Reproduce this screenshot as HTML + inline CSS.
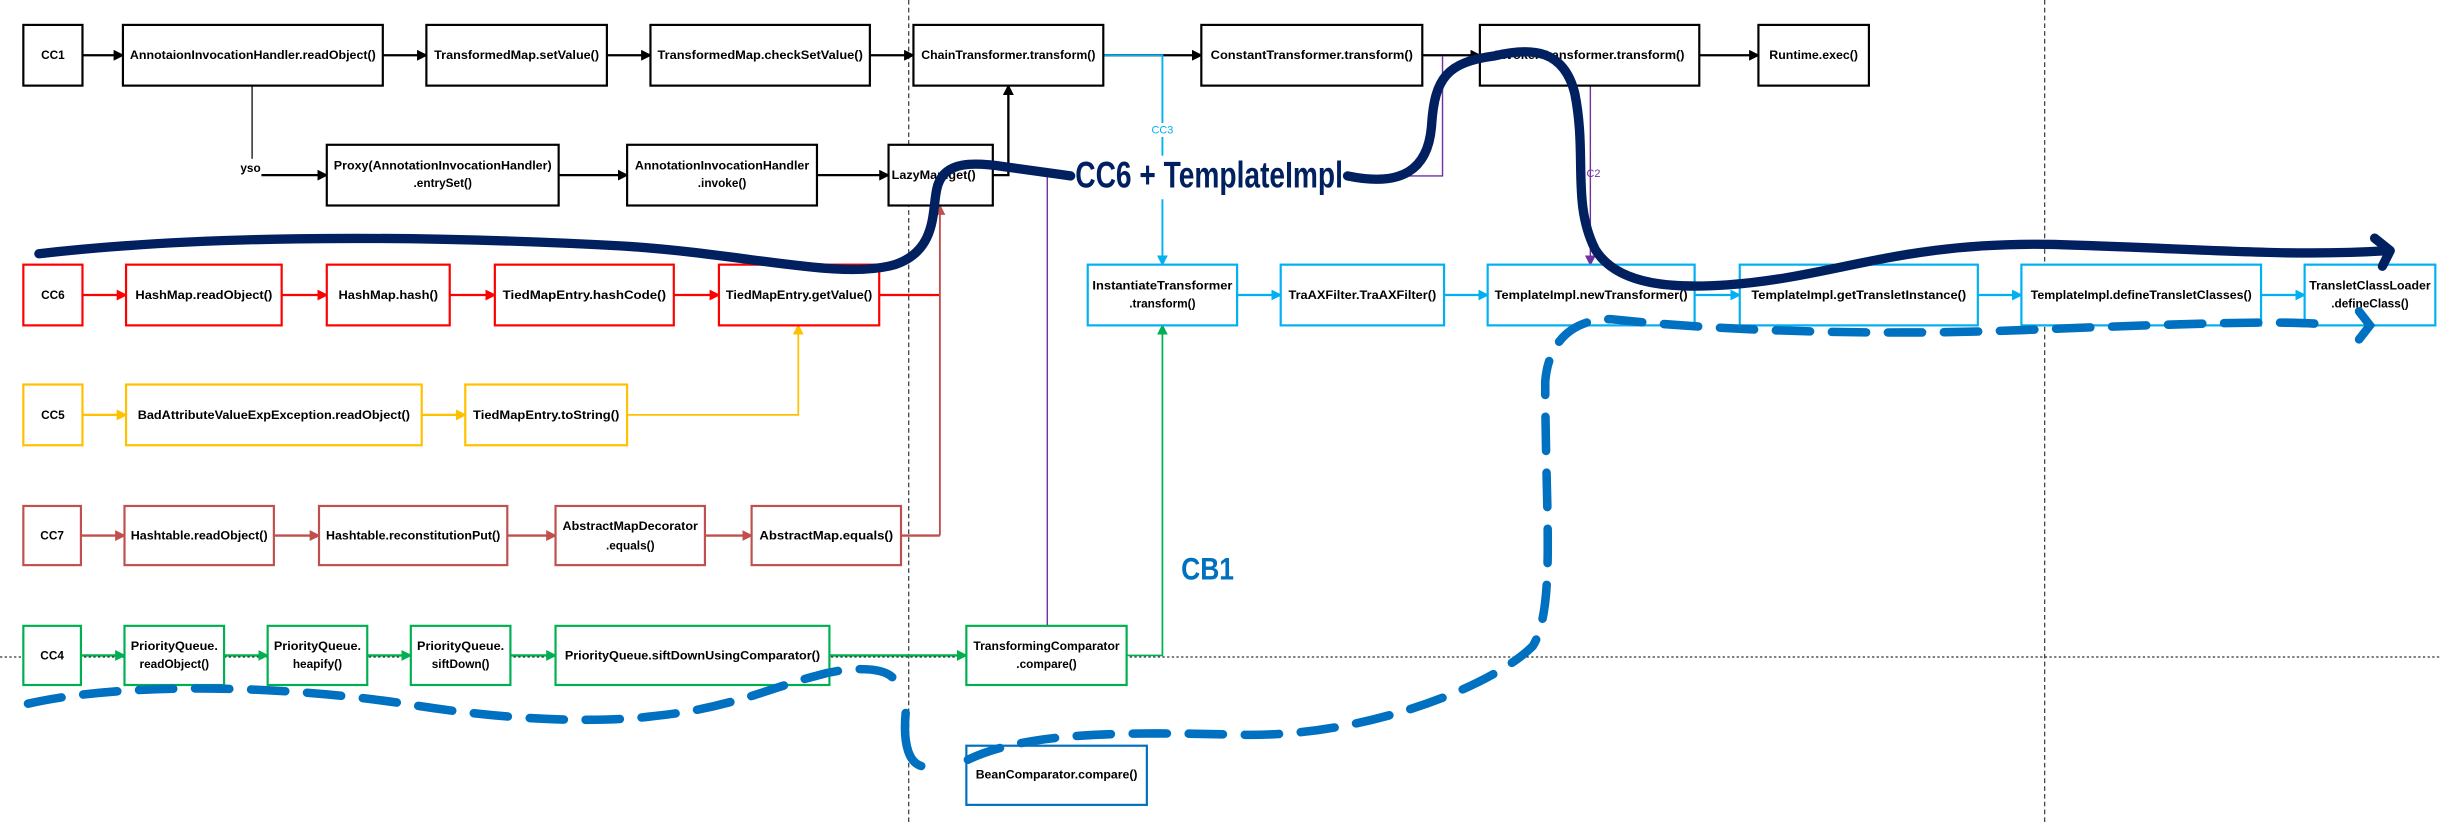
<!DOCTYPE html>
<html><head><meta charset="utf-8"><style>
html,body{margin:0;padding:0;background:#fff;}
svg{display:block;}
text{font-family:"Liberation Sans",sans-serif;font-size:7.6px;font-weight:bold;fill:#000;text-anchor:middle;dominant-baseline:middle;}
</style></head><body>
<svg width="2440" height="822" viewBox="0 0 1568 528" preserveAspectRatio="none" xmlns="http://www.w3.org/2000/svg">
<defs>
<marker id="mk" markerWidth="7" markerHeight="7" refX="6" refY="3.5" orient="auto" markerUnits="userSpaceOnUse"><path d="M0,0L7,3.5L0,7z" fill="#000"/></marker>
<marker id="mr" markerWidth="7" markerHeight="7" refX="6" refY="3.5" orient="auto" markerUnits="userSpaceOnUse"><path d="M0,0L7,3.5L0,7z" fill="#ff0000"/></marker>
<marker id="mr2" markerWidth="7" markerHeight="7" refX="6" refY="3.5" orient="auto" markerUnits="userSpaceOnUse"><path d="M0,0L7,3.5L0,7z" fill="#c0504d"/></marker>
<marker id="my" markerWidth="7" markerHeight="7" refX="6" refY="3.5" orient="auto" markerUnits="userSpaceOnUse"><path d="M0,0L7,3.5L0,7z" fill="#ffc000"/></marker>
<marker id="mg" markerWidth="7" markerHeight="7" refX="6" refY="3.5" orient="auto" markerUnits="userSpaceOnUse"><path d="M0,0L7,3.5L0,7z" fill="#00b050"/></marker>
<marker id="mc" markerWidth="7" markerHeight="7" refX="6" refY="3.5" orient="auto" markerUnits="userSpaceOnUse"><path d="M0,0L7,3.5L0,7z" fill="#00b0f0"/></marker>
<marker id="mp" markerWidth="7" markerHeight="7" refX="6" refY="3.5" orient="auto" markerUnits="userSpaceOnUse"><path d="M0,0L7,3.5L0,7z" fill="#7030a0"/></marker>
</defs>
<g stroke="#000" stroke-width="0.6" stroke-dasharray="3,2" fill="none">
<line x1="584" y1="0" x2="584" y2="528"/>
<line x1="1314" y1="0" x2="1314" y2="528"/>
<line x1="0" y1="422" x2="1568" y2="422" stroke-dasharray="1.5,1.5"/>
</g>
<g fill="none" stroke-width="1.2">
<g stroke="#000" marker-end="url(#mk)" stroke-width="1.5">
<line x1="53" y1="35.5" x2="79" y2="35.5"/><line x1="246" y1="35.5" x2="274" y2="35.5"/>
<line x1="390" y1="35.5" x2="418" y2="35.5"/><line x1="559" y1="35.5" x2="587" y2="35.5"/>
<line x1="709" y1="35.5" x2="772" y2="35.5"/><line x1="914" y1="35.5" x2="951" y2="35.5"/>
<line x1="1092" y1="35.5" x2="1130" y2="35.5"/>
<line x1="168" y1="112.5" x2="210" y2="112.5"/><line x1="359" y1="112.5" x2="403" y2="112.5"/>
<line x1="525" y1="112.5" x2="571" y2="112.5"/>
<polyline points="638,112.5 648,112.5 648,55"/>
</g>
<line x1="162" y1="55" x2="162" y2="102" stroke="#000" stroke-width="0.8"/>
<polyline points="709,35.5 747,35.5 747,170" stroke="#00b0f0" marker-end="url(#mc)"/>
<polyline points="673,402 673,113 927,113 927,36" stroke="#7030a0" stroke-width="0.9"/>
<line x1="1022" y1="55" x2="1022" y2="170" stroke="#7030a0" stroke-width="0.9" marker-end="url(#mp)"/>
<g stroke="#ff0000" marker-end="url(#mr)" stroke-width="1.5">
<line x1="53" y1="189.5" x2="81" y2="189.5"/><line x1="181" y1="189.5" x2="210" y2="189.5"/>
<line x1="289" y1="189.5" x2="318" y2="189.5"/><line x1="433" y1="189.5" x2="462" y2="189.5"/>
</g>
<polyline points="565,189.5 604,189.5" stroke="#ff0000" stroke-width="1.5"/>
<line x1="604" y1="344" x2="604" y2="132" stroke="#c0504d" marker-end="url(#mr2)"/>
<g stroke="#ffc000" marker-end="url(#my)" stroke-width="1.5">
<line x1="53" y1="266.5" x2="81" y2="266.5"/><line x1="271" y1="266.5" x2="299" y2="266.5"/>
<polyline points="403,266.5 513,266.5 513,209" stroke-width="1.1"/>
</g>
<g stroke="#c0504d" marker-end="url(#mr2)" stroke-width="1.5">
<line x1="52" y1="344" x2="80" y2="344"/><line x1="176" y1="344" x2="205" y2="344"/>
<line x1="326" y1="344" x2="357" y2="344"/><line x1="453" y1="344" x2="483" y2="344"/>
</g>
<polyline points="579,344 604,344" stroke="#c0504d" stroke-width="1.5"/>
<g stroke="#00b050" marker-end="url(#mg)" stroke-width="1.5">
<line x1="52" y1="421" x2="80" y2="421"/><line x1="144" y1="421" x2="172" y2="421"/>
<line x1="236" y1="421" x2="264" y2="421"/><line x1="328" y1="421" x2="357" y2="421"/>
<line x1="533" y1="421" x2="621" y2="421"/>
<polyline points="724,421 747,421 747,209" stroke-width="1.1"/>
</g>
<g stroke="#00b0f0" marker-end="url(#mc)" stroke-width="1.5">
<line x1="795" y1="189.5" x2="823" y2="189.5"/><line x1="928" y1="189.5" x2="956" y2="189.5"/>
<line x1="1089" y1="189.5" x2="1118" y2="189.5"/><line x1="1271" y1="189.5" x2="1299" y2="189.5"/>
<line x1="1453" y1="189.5" x2="1481" y2="189.5"/>
</g>
</g>
<g fill="#fff" stroke-width="1.4">
<g stroke="#000">
<rect x="15" y="16" width="38" height="39"/><rect x="79" y="16" width="167" height="39"/>
<rect x="274" y="16" width="116" height="39"/><rect x="418" y="16" width="141" height="39"/>
<rect x="587" y="16" width="122" height="39"/><rect x="772" y="16" width="142" height="39"/>
<rect x="951" y="16" width="141" height="39"/><rect x="1130" y="16" width="71" height="39"/>
<rect x="210" y="93" width="149" height="39"/><rect x="403" y="93" width="122" height="39"/>
<rect x="571" y="93" width="67" height="39"/>
</g>
<g stroke="#ff0000">
<rect x="15" y="170" width="38" height="39"/><rect x="81" y="170" width="100" height="39"/>
<rect x="210" y="170" width="79" height="39"/><rect x="318" y="170" width="115" height="39"/>
<rect x="462" y="170" width="103" height="39"/>
</g>
<g stroke="#ffc000">
<rect x="15" y="247" width="38" height="39"/><rect x="81" y="247" width="190" height="39"/>
<rect x="299" y="247" width="104" height="39"/>
</g>
<g stroke="#c0504d">
<rect x="15" y="325" width="37" height="38"/><rect x="80" y="325" width="96" height="38"/>
<rect x="205" y="325" width="121" height="38"/><rect x="357" y="325" width="96" height="38"/>
<rect x="483" y="325" width="96" height="38"/>
</g>
<g stroke="#00b050">
<rect x="15" y="402" width="37" height="38"/><rect x="80" y="402" width="64" height="38"/>
<rect x="172" y="402" width="64" height="38"/><rect x="264" y="402" width="64" height="38"/>
<rect x="357" y="402" width="176" height="38"/><rect x="621" y="402" width="103" height="38"/>
</g>
<g stroke="#00b0f0">
<rect x="699" y="170" width="96" height="39"/><rect x="823" y="170" width="105" height="39"/>
<rect x="956" y="170" width="133" height="39"/><rect x="1118" y="170" width="153" height="39"/>
<rect x="1299" y="170" width="154" height="39"/><rect x="1481" y="170" width="84" height="39"/>
</g>
<rect x="621" y="479" width="116" height="38" stroke="#0070c0"/>
</g>
<g>
<text x="34" y="36">CC1</text>
<text x="162.5" y="36" textLength="158" lengthAdjust="spacingAndGlyphs">AnnotaionInvocationHandler.readObject()</text>
<text x="332" y="36" textLength="106" lengthAdjust="spacingAndGlyphs">TransformedMap.setValue()</text>
<text x="488.5" y="36" textLength="132" lengthAdjust="spacingAndGlyphs">TransformedMap.checkSetValue()</text>
<text x="648" y="36" textLength="112" lengthAdjust="spacingAndGlyphs">ChainTransformer.transform()</text>
<text x="843" y="36" textLength="130" lengthAdjust="spacingAndGlyphs">ConstantTransformer.transform()</text>
<text x="1021.5" y="36" textLength="122" lengthAdjust="spacingAndGlyphs">InvokerTransformer.transform()</text>
<text x="1165.5" y="36" textLength="57" lengthAdjust="spacingAndGlyphs">Runtime.exec()</text>
<text x="284.5" y="107" textLength="140" lengthAdjust="spacingAndGlyphs">Proxy(AnnotationInvocationHandler)</text>
<text x="284.5" y="118">.entrySet()</text>
<text x="464" y="107" textLength="112" lengthAdjust="spacingAndGlyphs">AnnotationInvocationHandler</text>
<text x="464" y="118">.invoke()</text>
<text x="600" y="113" textLength="54" lengthAdjust="spacingAndGlyphs">LazyMap.get()</text>
<text x="161" y="108.5">yso</text>
<text x="34" y="190">CC6</text>
<text x="131" y="190" textLength="88" lengthAdjust="spacingAndGlyphs">HashMap.readObject()</text>
<text x="249.5" y="190" textLength="64" lengthAdjust="spacingAndGlyphs">HashMap.hash()</text>
<text x="375.5" y="190" textLength="105" lengthAdjust="spacingAndGlyphs">TiedMapEntry.hashCode()</text>
<text x="513.5" y="190" textLength="94" lengthAdjust="spacingAndGlyphs">TiedMapEntry.getValue()</text>
<text x="34" y="267">CC5</text>
<text x="176" y="267" textLength="175" lengthAdjust="spacingAndGlyphs">BadAttributeValueExpException.readObject()</text>
<text x="351" y="267" textLength="94" lengthAdjust="spacingAndGlyphs">TiedMapEntry.toString()</text>
<text x="33.5" y="344.5">CC7</text>
<text x="128" y="344.5" textLength="88" lengthAdjust="spacingAndGlyphs">Hashtable.readObject()</text>
<text x="265.5" y="344.5" textLength="112" lengthAdjust="spacingAndGlyphs">Hashtable.reconstitutionPut()</text>
<text x="405" y="338.5" textLength="87" lengthAdjust="spacingAndGlyphs">AbstractMapDecorator</text>
<text x="405" y="351">.equals()</text>
<text x="531" y="344.5" textLength="86" lengthAdjust="spacingAndGlyphs">AbstractMap.equals()</text>
<text x="33.5" y="421.5">CC4</text>
<text x="112" y="415.5" textLength="56" lengthAdjust="spacingAndGlyphs">PriorityQueue.</text>
<text x="112" y="427">readObject()</text>
<text x="204" y="415.5" textLength="56" lengthAdjust="spacingAndGlyphs">PriorityQueue.</text>
<text x="204" y="427">heapify()</text>
<text x="296" y="415.5" textLength="56" lengthAdjust="spacingAndGlyphs">PriorityQueue.</text>
<text x="296" y="427">siftDown()</text>
<text x="445" y="421.5" textLength="164" lengthAdjust="spacingAndGlyphs">PriorityQueue.siftDownUsingComparator()</text>
<text x="672.5" y="415.5" textLength="94" lengthAdjust="spacingAndGlyphs">TransformingComparator</text>
<text x="672.5" y="427">.compare()</text>
<text x="679" y="498" textLength="104" lengthAdjust="spacingAndGlyphs">BeanComparator.compare()</text>
<text x="747" y="184" textLength="90" lengthAdjust="spacingAndGlyphs">InstantiateTransformer</text>
<text x="747" y="195.5">.transform()</text>
<text x="875.5" y="190" textLength="95" lengthAdjust="spacingAndGlyphs">TraAXFilter.TraAXFilter()</text>
<text x="1022.5" y="190" textLength="124" lengthAdjust="spacingAndGlyphs">TemplateImpl.newTransformer()</text>
<text x="1194.5" y="190" textLength="138" lengthAdjust="spacingAndGlyphs">TemplateImpl.getTransletInstance()</text>
<text x="1376" y="190" textLength="142" lengthAdjust="spacingAndGlyphs">TemplateImpl.defineTransletClasses()</text>
<text x="1523" y="184" textLength="78" lengthAdjust="spacingAndGlyphs">TransletClassLoader</text>
<text x="1523" y="195.5">.defineClass()</text>
<rect x="738" y="79" width="18" height="9" fill="#fff"/>
<text x="747" y="84" style="fill:#00b0f0;font-size:7px;font-weight:normal">CC3</text>
<text x="1024" y="112" style="fill:#7030a0;font-size:7px;font-weight:normal">C2</text>
</g>
<rect x="688" y="100" width="178" height="28" fill="#fff"/>
<text x="777" y="114" style="fill:#002060;font-size:24px;font-weight:bold" textLength="172" lengthAdjust="spacingAndGlyphs">CC6 + TemplateImpl</text>
<text x="776" y="367" style="fill:#0070c0;font-size:20px;font-weight:bold" textLength="34" lengthAdjust="spacingAndGlyphs">CB1</text>
<g fill="none" stroke="#002060" stroke-width="6" stroke-linecap="round" stroke-linejoin="round">
<path d="M25,163 C120,152 250,150 400,158 C480,163 540,180 575,170 C605,160 598,130 603,118 C608,104 625,104 645,107 L688,113"/>
<path d="M866,113 C900,120 918,110 920,80 C922,50 930,40 960,36 C985,30 1005,32 1012,60 C1020,100 1010,130 1025,160 C1040,185 1080,185 1110,183 C1180,178 1220,155 1320,157 C1420,160 1470,165 1535,161"/>
<path d="M1526,153 L1536,161 L1531,171"/>
</g>
<g fill="none" stroke="#0070c0" stroke-width="5.5" stroke-linecap="round">
<path stroke-dasharray="22,14" d="M18,452 C80,438 180,440 260,452 C320,462 380,465 420,460 C470,455 500,440 525,434 C545,428 570,428 575,437"/>
<path d="M582,458 C580,480 585,490 592,492"/>
<path stroke-dasharray="22,14" d="M622,488 C660,470 720,470 800,472 C880,473 960,440 985,415 C1000,390 993,330 993,245 C995,220 1010,205 1035,205 C1100,212 1200,216 1300,212 C1400,208 1460,206 1490,208"/>
<path d="M1516,200 L1523,209 L1516,218"/>
</g>
</svg>
</body></html>
